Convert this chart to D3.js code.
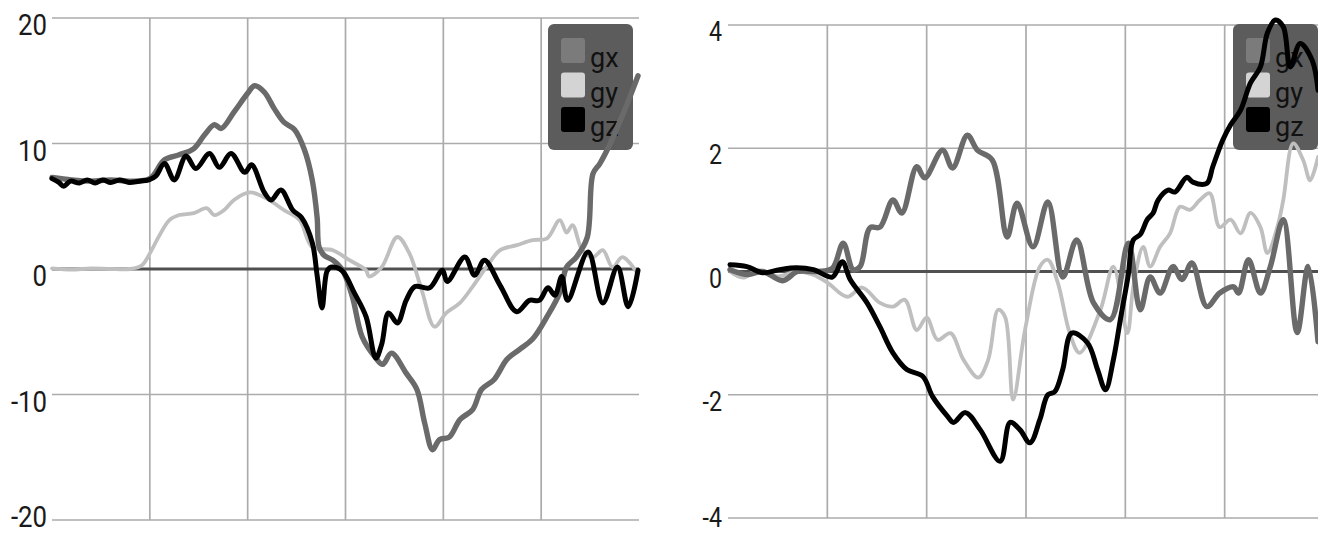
<!DOCTYPE html>
<html>
<head>
<meta charset="utf-8">
<script src="https://cdn.jsdelivr.net/npm/d3@7"></script>
<style>
  html, body { margin: 0; padding: 0; background: #fff; }
  svg { display: block; font-family: Roboto, "Liberation Sans", sans-serif; }
</style>
</head>
<body>
<svg id="chart" width="1318" height="536"></svg>
<script>
// ---------- DATA ----------
const seriesNames = ["gx", "gy", "gz"];
const leftTicks = [-20, -10, 0, 10, 20];
const rightTicks = [-4, -2, 0, 2, 4];
const gridX = [1, 2, 3, 4, 5];

// Left panel
const leftGxT = [0, .2, .4, .6, .8, 1.0, 1.15, 1.30, 1.45, 1.56, 1.66, 1.73, 1.86, 2.00, 2.07, 2.17, 2.27, 2.37, 2.48, 2.58, 2.66, 2.71, 2.73, 2.78, 2.87, 2.97, 3.07, 3.17, 3.30, 3.38, 3.47, 3.62, 3.73, 3.81, 3.89, 3.96, 4.06, 4.17, 4.30, 4.39, 4.52, 4.65, 4.78, 4.91, 5.06, 5.19, 5.26, 5.36, 5.47, 5.53, 5.60, 5.70, 5.85, 5.99];
const leftGxV = [7.3, 7.1, 7.0, 7.1, 7.0, 7.2, 8.7, 9.1, 9.6, 10.7, 11.5, 11.2, 12.5, 14.0, 14.6, 14.1, 12.8, 11.7, 11.1, 9.5, 7.1, 4.1, 1.75, 1.1, 0.7, -0.1, -2.2, -5.4, -7.0, -7.6, -6.7, -8.3, -9.6, -12.3, -14.4, -13.6, -13.4, -12.0, -11.2, -9.6, -8.8, -7.2, -6.4, -5.6, -3.8, -1.9, 0.15, 0.95, 2.5, 7.6, 8.4, 9.9, 12.6, 15.4];

const leftGyT = [0, .2, .4, .6, .8, .92, .99, 1.10, 1.20, 1.30, 1.45, 1.58, 1.66, 1.76, 1.86, 2.02, 2.12, 2.22, 2.37, 2.53, 2.66, 2.87, 3.04, 3.21, 3.24, 3.37, 3.53, 3.65, 3.78, 3.91, 4.03, 4.17, 4.30, 4.44, 4.58, 4.75, 4.91, 5.06, 5.19, 5.26, 5.32, 5.42, 5.53, 5.63, 5.73, 5.83, 5.98];
const leftGyV = [0.05, -0.05, 0.05, 0, 0, 0.3, 1.1, 2.7, 3.9, 4.3, 4.45, 4.85, 4.3, 4.7, 5.5, 6.1, 5.9, 5.5, 4.7, 3.9, 1.75, 1.5, 0.7, -0.1, -0.6, 0.15, 2.55, 1.3, -1.7, -4.6, -3.5, -2.7, -1.4, 0.15, 1.5, 1.9, 2.3, 2.45, 3.9, 2.9, 3.5, 1.5, 0.95, 1.5, 0.15, 0.95, -0.3];

const leftGzT = [0, .07, .12, .19, .28, .36, .44, .52, .60, .69, .79, .89, .99, 1.06, 1.15, 1.25, 1.37, 1.47, 1.61, 1.71, 1.83, 1.97, 2.04, 2.17, 2.24, 2.34, 2.46, 2.55, 2.66, 2.71, 2.76, 2.81, 2.85, 2.96, 3.09, 3.21, 3.31, 3.37, 3.44, 3.53, 3.62, 3.71, 3.86, 3.99, 4.04, 4.22, 4.32, 4.42, 4.58, 4.75, 4.88, 4.98, 5.07, 5.14, 5.21, 5.27, 5.48, 5.63, 5.78, 5.89, 5.99];
const leftGzV = [7.2, 6.9, 6.6, 7.0, 6.85, 7.1, 6.85, 7.1, 6.9, 7.1, 6.9, 7.0, 7.1, 7.4, 8.4, 7.1, 9.0, 8.0, 9.2, 8.1, 9.2, 7.7, 8.3, 6.1, 5.5, 6.3, 4.7, 4.1, 2.1, -0.5, -3.1, -0.2, 0.15, -0.1, -1.9, -3.8, -7.1, -6.0, -3.5, -4.3, -2.5, -1.4, -1.5, -0.1, -1.0, 0.95, -0.5, 0.7, -1.3, -3.4, -2.5, -2.5, -1.5, -2.1, -0.6, -2.5, 1.35, -2.7, 0.15, -3.0, -0.1];

// Right panel
const rightGxT = [0.02, .2, .35, .55, .7, .9, 1.05, 1.16, 1.26, 1.33, 1.43, 1.53, 1.66, 1.75, 1.90, 1.98, 2.16, 2.26, 2.41, 2.51, 2.66, 2.81, 2.91, 3.07, 3.22, 3.37, 3.51, 3.68, 3.85, 4.03, 4.15, 4.25, 4.35, 4.48, 4.57, 4.67, 4.82, 4.95, 5.09, 5.14, 5.24, 5.36, 5.46, 5.59, 5.73, 5.84, 5.94];
const rightGxV = [0.03, -0.05, 0.0, -0.15, 0.0, 0.0, 0.05, 0.46, 0.03, 0.08, 0.71, 0.72, 1.16, 0.95, 1.7, 1.52, 1.97, 1.68, 2.21, 1.97, 1.81, 0.56, 1.11, 0.4, 1.13, -0.09, 0.51, -0.51, -0.78, 0.46, -0.62, -0.09, -0.35, 0.08, -0.13, 0.14, -0.57, -0.35, -0.25, -0.35, 0.19, -0.35, 0.08, 0.84, -0.99, 0.08, -1.14];

const rightGyT = [0.02, .15, .3, .5, .7, .85, 1.0, 1.2, 1.35, 1.53, 1.66, 1.78, 1.90, 2.00, 2.11, 2.24, 2.37, 2.52, 2.62, 2.72, 2.79, 2.87, 2.99, 3.14, 3.22, 3.32, 3.44, 3.54, 3.75, 3.88, 4.02, 4.08, 4.18, 4.25, 4.35, 4.45, 4.55, 4.65, 4.75, 4.85, 4.95, 5.06, 5.16, 5.26, 5.36, 5.43, 5.53, 5.59, 5.69, 5.79, 5.86, 5.94];
const rightGyV = [0.0, -0.1, 0.02, -0.08, 0.0, -0.05, -0.18, -0.41, -0.26, -0.51, -0.57, -0.46, -0.95, -0.75, -1.11, -1.0, -1.43, -1.72, -1.43, -0.62, -0.74, -2.08, -0.95, 0.08, 0.19, -0.18, -1.0, -1.32, -0.62, 0.08, -1.0, -0.25, 0.4, 0.08, 0.4, 0.62, 1.05, 1.0, 1.16, 1.27, 0.72, 0.84, 0.62, 0.95, 0.72, 0.3, 0.72, 1.16, 2.08, 1.81, 1.48, 1.86];

const rightGzT = [0.02, .19, .35, .52, .69, .86, 1.05, 1.15, 1.23, 1.40, 1.53, 1.66, 1.80, 1.96, 2.06, 2.21, 2.27, 2.39, 2.54, 2.74, 2.84, 2.94, 3.04, 3.14, 3.22, 3.29, 3.37, 3.46, 3.62, 3.72, 3.80, 3.88, 3.95, 4.03, 4.08, 4.15, 4.22, 4.28, 4.33, 4.43, 4.50, 4.62, 4.68, 4.82, 4.88, 4.98, 5.06, 5.16, 5.26, 5.36, 5.43, 5.51, 5.59, 5.66, 5.76, 5.88, 5.94];
const rightGzV = [0.11, 0.08, -0.02, 0.03, 0.06, 0.03, -0.09, 0.16, -0.13, -0.51, -0.9, -1.32, -1.59, -1.7, -2.03, -2.35, -2.45, -2.29, -2.57, -3.08, -2.45, -2.57, -2.78, -2.4, -2.0, -1.95, -1.59, -1.0, -1.16, -1.59, -1.92, -1.43, -0.78, -0.05, 0.51, 0.6, 0.84, 0.95, 1.16, 1.32, 1.29, 1.53, 1.45, 1.43, 1.7, 2.13, 2.38, 2.62, 3.06, 3.32, 3.87, 4.08, 3.97, 3.32, 3.7, 3.43, 2.94];

// ---------- STYLE ----------
const colors = { gx: "#6a6a6a", gy: "#bfbfbf", gz: "#000000" };
const widths = { gx: 5.4, gy: 3.8, gz: 5.0 };

const svg = d3.select("#chart");

function zip(t, v) { return t.map((d, i) => ({ t: d, v: v[i] })); }

function panel(opts) {
  const g = svg.append("g");
  const x = d3.scaleLinear().domain([0, 6]).range([opts.x0, opts.x1]);
  const y = d3.scaleLinear().domain([opts.ticks[0], opts.ticks[opts.ticks.length - 1]]).range([opts.y1, opts.y0]);

  // horizontal grid
  g.selectAll("line.h").data(opts.ticks.filter(d => d !== 0)).enter().append("line")
    .attr("x1", x(0)).attr("x2", x(6))
    .attr("y1", d => y(d)).attr("y2", d => y(d))
    .attr("stroke", "#ababab").attr("stroke-width", 1.7);
  // vertical grid
  g.selectAll("line.v").data(gridX).enter().append("line")
    .attr("x1", d => x(d)).attr("x2", d => x(d))
    .attr("y1", y.range()[1]).attr("y2", y.range()[0])
    .attr("stroke", "#ababab").attr("stroke-width", 1.7);
  // zero line
  g.append("line").attr("x1", x(0)).attr("x2", x(6)).attr("y1", y(0)).attr("y2", y(0))
    .attr("stroke", "#505050").attr("stroke-width", 2.8);

  // y labels (narrow, like the original)
  g.selectAll("g.yl").data(opts.ticks).enter().append("g")
    .attr("transform", d => `translate(${opts.labelX},${Math.min(y(d) + opts.labelDy, 527)}) scale(0.86,1)`)
    .append("text")
    .attr("text-anchor", "end").attr("font-size", opts.labelSize).attr("fill", "#1a1a1a")
    .text(d => d);

  // legend (below lines)
  const lg = g.append("g").attr("transform", `translate(${opts.legX},${opts.legY})`);
  lg.append("rect").attr("width", 85).attr("height", 126).attr("rx", 6)
    .attr("fill", "#5c5c5c");
  seriesNames.forEach((s, i) => {
    lg.append("rect").attr("x", 13).attr("y", 14 + i * 34.5).attr("width", 24).attr("height", 25)
      .attr("rx", 3).attr("fill", s === "gx" ? "#7b7b7b" : s === "gy" ? "#d4d4d4" : "#000");
    lg.append("text").attr("x", 42).attr("y", 43 + i * 34.5).attr("font-size", 27).attr("fill", "#111").text(s);
  });

  const line = d3.line().x(d => x(d.t)).y(d => y(d.v)).curve(d3.curveCatmullRom.alpha(0.5));
  ["gy", "gx", "gz"].forEach(s => {
    g.append("path").datum(opts.data[s])
      .attr("d", line).attr("fill", "none")
      .attr("stroke", colors[s]).attr("stroke-width", widths[s])
      .attr("stroke-linejoin", "round").attr("stroke-linecap", "round");
  });
}

panel({
  x0: 52, x1: 639, y0: 18, y1: 520, ticks: leftTicks, labelX: 47, labelDy: 17, labelSize: 30,
  legX: 548, legY: 24,
  data: { gx: zip(leftGxT, leftGxV), gy: zip(leftGyT, leftGyV), gz: zip(leftGzT, leftGzV) }
});
panel({
  x0: 728, x1: 1324, y0: 25, y1: 518, ticks: rightTicks, labelX: 722, labelDy: 16, labelSize: 27,
  legX: 1233, legY: 24,
  data: { gx: zip(rightGxT, rightGxV), gy: zip(rightGyT, rightGyV), gz: zip(rightGzT, rightGzV) }
});
</script>
</body>
</html>
